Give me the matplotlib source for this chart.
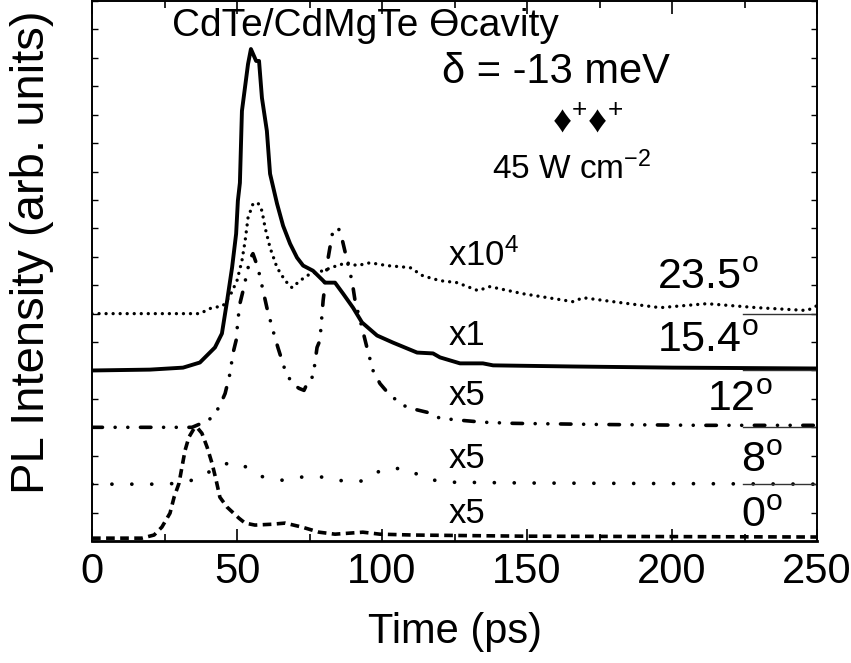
import numpy as np
import matplotlib
matplotlib.use("Agg")
import matplotlib.pyplot as plt

plt.rcParams['font.family'] = ['Liberation Sans', 'DejaVu Sans']
plt.rcParams['mathtext.fontset'] = 'custom'
plt.rcParams['mathtext.rm'] = 'Liberation Sans'
plt.rcParams['mathtext.it'] = 'Liberation Sans:italic'
plt.rcParams['mathtext.bf'] = 'Liberation Sans:bold'

# ---------------- data (time in ps, intensity above each trace's baseline, arb. units) -------------
# 23.5 deg, x10^4 (dotted)
t_235 = [0, 37.2, 40.7, 45.2, 47.6, 50, 51.7, 52.8, 53.8, 55.5, 57.2, 58.6, 59.7, 61.4, 63.8, 66.6,
         69, 71.7, 75.2, 79.7, 84.5, 87.9, 91.4, 95.9, 101.7, 109.7, 114.1, 120, 125.9, 133.1, 137.2,
         148.6, 165.9, 169.3, 182, 195.9, 212, 229.3, 246.6, 250]
s_235 = [0, 0, 0.18, 0.28, 0.63, 1.16, 1.86, 2.56, 3.37, 3.86, 3.90, 3.62, 3.02, 2.32, 1.62, 1.16,
         0.91, 1.16, 1.40, 1.51, 1.69, 1.79, 1.69, 1.79, 1.69, 1.62, 1.33, 1.16, 1.09, 0.81, 0.95,
         0.70, 0.42, 0.56, 0.39, 0.21, 0.35, 0.21, 0.11, 0.28]

# 15.4 deg, x1 (solid)
t_154 = [0, 20, 31.4, 37.2, 42.4, 44.8, 46.6, 48.3, 49.7, 50.3, 51.0, 51.7, 53.8, 54.8, 56.6, 57.6,
         58.6, 60.3, 61.4, 63.8, 65.9, 68.3, 70.7, 72.8, 76.2, 79.7, 80.3, 83.8, 86.6, 90.0, 93.1,
         98.3, 103.8, 112.1, 117.6, 120, 126.9, 134.8, 138.3, 165.9, 200.3, 250]
s_154 = [0, 0.03, 0.1, 0.28, 0.81, 1.3, 2.46, 3.62, 4.81, 5.97, 6.6, 9.13, 10.78, 11.31, 10.89, 10.89,
         9.59, 8.43, 6.92, 5.87, 5.09, 4.46, 3.97, 3.69, 3.51, 3.16, 3.09, 3.09, 2.7, 2.21, 1.69,
         1.23, 0.98, 0.63, 0.6, 0.46, 0.25, 0.25, 0.18, 0.14, 0.1, 0.07]

# 12 deg, x5 (dash-dot-dot)
t_12 = [0, 34.5, 40.3, 43.8, 45.9, 47.6, 48.6, 49.7, 50.3, 51.0, 52.1, 53.4, 54.5, 55.5, 57.2, 59.0,
        60.3, 62.4, 64.1, 66.6, 69.0, 71.4, 73.1, 75.2, 76.2, 77.6, 78.6, 79.7, 81.4, 82.8, 84.8,
        86.2, 87.9, 89.7, 90.7, 93.1, 94.8, 96.9, 99.3, 102.8, 108.6, 115.5, 120, 126.9, 134.8,
        145.2, 175, 210, 250]
s_12 = [0, 0, 0.25, 0.70, 1.19, 1.90, 2.60, 3.06, 3.76, 4.35, 4.81, 5.41, 5.94, 6.11, 5.62, 4.81,
        4.21, 3.41, 2.81, 2.00, 1.54, 1.37, 1.30, 1.76, 1.76, 2.81, 3.06, 4.46, 5.94, 6.78, 7.06,
        6.64, 5.90, 5.13, 4.46, 3.51, 2.81, 2.00, 1.54, 1.12, 0.70, 0.53, 0.32, 0.25, 0.18,
        0.14, 0.10, 0.07, 0.07]

# 8 deg, x5 (sparse dots)
t_8 = [0, 23.1, 30.3, 37.2, 43.8, 47.6, 51.0, 57.9, 65.5, 72.4, 80.3, 86.6, 93.4, 100.3, 107.9,
       115.5, 122.4, 151, 250]
s_8 = [0, 0, 0.03, 0.21, 0.67, 0.74, 0.74, 0.28, 0.14, 0.25, 0.25, 0.11, 0.11, 0.53, 0.56,
       0.18, 0.07, 0.04, 0.0]

# 0 deg, x5 (dashed)
t_0 = [0, 17.2, 21.4, 24.1, 26.9, 28.3, 30.0, 31.0, 32.1, 33.4, 35.2, 36.2, 37.9, 39.7, 41.4,
       42.8, 44.1, 46.6, 50.7, 52.8, 56.2, 62.1, 66.6, 72.4, 78.3, 83.8, 93.4, 99.3, 110.7,
       148.6, 250]
s_0 = [0, 0, 0.11, 0.39, 0.88, 1.44, 1.93, 2.49, 3.09, 3.55, 3.86, 3.90, 3.69, 3.20, 2.63,
       2.04, 1.44, 1.09, 0.70, 0.53, 0.46, 0.49, 0.53, 0.39, 0.21, 0.14, 0.21, 0.14, 0.11,
       0.07, 0.04]

offsets = {'23.5': 8.0, '15.4': 6.0, '12': 4.0, '8': 2.0, '0': 0.1}
angle_labels = ['23.5', '15.4', '12', '8', '0']
factor_labels = ['x10$^\\mathrm{4}$', 'x1', 'x5', 'x5', 'x5']
x_ticks = [0, 50, 100, 150, 200, 250]

# ---------------- figure --------------------------------------------------------------------
fig = plt.figure(figsize=(8.51, 6.63), dpi=100)
ax = fig.add_axes([92/851, 1 - 541/663, 725/851, 540/663])

ax.plot(t_235, np.array(s_235) + offsets['23.5'], color='black', lw=2.4,
        linestyle=(0, (0.01, 2.1)), dash_capstyle='round')
ax.plot(t_154, np.array(s_154) + offsets['15.4'], color='black', lw=2.8, solid_joinstyle='round')
ax.plot(t_12, np.array(s_12) + offsets['12'], color='black', lw=2.6,
        linestyle=(0, (2.9, 3.5, 0.01, 3.5, 0.01, 3.5)), dash_capstyle='round')
ax.plot(t_8, np.array(s_8) + offsets['8'], color='black', lw=2.7,
        linestyle=(0, (0.01, 5.3)), dash_capstyle='round')
ax.plot(t_0, np.array(s_0) + offsets['0'], color='black', lw=2.6,
        linestyle=(0, (2.4, 1.5)), dash_capstyle='butt')

# short baseline markers at the right edge
for key in ['23.5', '15.4', '12', '8']:
    ax.plot([224.5, 250], [offsets[key], offsets[key]], color='#333333', lw=1.0)

ax.set_xlim(0, 250)
ax.set_ylim(0, 19)

ax.set_xticks(x_ticks)
ax.set_xticks(np.arange(25, 250, 50), minor=True)
ax.set_yticks(np.arange(0, 20, 1))
ax.set_yticklabels([])
ax.tick_params(axis='x', which='major', direction='in', length=9, width=1.2, top=True,
               labelsize=30, pad=8)
ax.tick_params(axis='x', which='minor', direction='in', length=5, width=1.2, top=True)
ax.tick_params(axis='y', which='major', direction='in', length=4, width=1.0, right=True)
for sp in ax.spines.values():
    sp.set_linewidth(1.4)
ax.spines['bottom'].set_linewidth(2.0)

ax.set_xlabel('Time (ps)', fontsize=30, labelpad=14)
ax.set_ylabel('PL Intensity (arb. units)', fontsize=34, va='center')
ax.yaxis.set_label_coords(-0.083, 0.534)

# annotations
ax.text(27.6, 17.77, 'CdTe/CdMgTe Өcavity', fontsize=28, ha='left', va='baseline')
ax.text(120.7, 16.12, 'δ = -13 meV', fontsize=30, ha='left', va='baseline')
ax.text(158.6, 14.37, '♦$^\\mathrm{+}$♦$^\\mathrm{+}$', fontsize=27, ha='left', va='baseline')
ax.text(137.9, 12.75, '45 W cm$^\\mathrm{-2}$', fontsize=24, ha='left', va='baseline')

factor_pos = [9.69, 6.88, 4.78, 2.56, 0.63]
for lab, yy in zip(factor_labels, factor_pos):
    ax.text(122.8, yy, lab, fontsize=25, ha='left', va='baseline')

angle_pos = [(229.7, 8.85), (229.7, 6.64), (234.8, 4.57), (238.3, 2.42), (238.3, 0.49)]
for lab, (xx, yy) in zip(angle_labels, angle_pos):
    ax.text(xx, yy, lab + '$^\\mathrm{o}$', fontsize=31, ha='right', va='baseline')

fig.savefig('out.png', dpi=100)
